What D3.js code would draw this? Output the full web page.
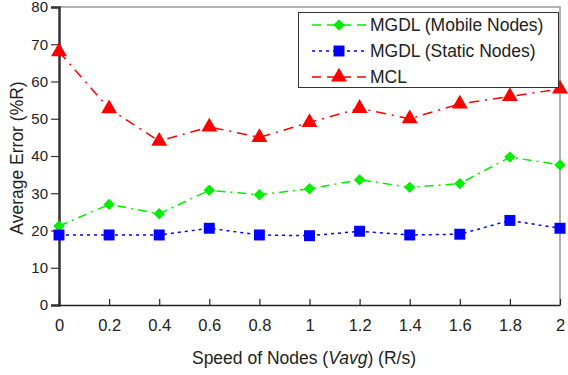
<!DOCTYPE html>
<html>
<head>
<meta charset="utf-8">
<script src="https://cdn.jsdelivr.net/npm/d3@7"></script>
<style>
  body { margin: 0; background: #fff; }
  text { font-family: "Liberation Sans", Arial, sans-serif; fill: #222; }
</style>
</head>
<body>
<svg width="568" height="375"></svg>
<script>
var speeds = [0, 0.2, 0.4, 0.6, 0.8, 1, 1.2, 1.4, 1.6, 1.8, 2];
var xTickLabels = ["0", "0.2", "0.4", "0.6", "0.8", "1", "1.2", "1.4", "1.6", "1.8", "2"];
var yTicks = [0, 10, 20, 30, 40, 50, 60, 70, 80];

var mobile = [21.2, 27, 24.5, 30.8, 29.6, 31.2, 33.6, 31.6, 32.6, 39.7, 37.6];
var stat = [18.8, 18.8, 18.8, 20.6, 18.8, 18.6, 19.8, 18.8, 19.0, 22.7, 20.6];
var mcl = [68, 52.7, 44, 47.8, 45, 49, 52.8, 50, 54, 56, 58];

var seriesNames = ["MGDL (Mobile Nodes)", "MGDL (Static Nodes)", "MCL"];

// square rotated 45deg = diamond with equal diagonals
var series = [
    {name: seriesNames[0], values: mobile, color: "#00ee00", dash: "9,5,2,5", symbol: d3.symbolSquare, size: 64, rot: 45},
    {name: seriesNames[1], values: stat, color: "#0000ff", dash: "3,4", symbol: d3.symbolSquare, size: 120, rot: 0},
    {name: seriesNames[2], values: mcl, color: "#ff0000", dash: "10,6,2,6", symbol: d3.symbolTriangle, size: 110, rot: 0}
];

var svg = d3.select("svg");
var mLeft = 59, mRight = 560, mTop = 7, mBottom = 305;

var x = d3.scaleLinear().domain([0, 2]).range([mLeft, mRight]);
var y = d3.scaleLinear().domain([0, 80]).range([mBottom, mTop]);

// frame (top/right)
svg.append("path")
    .attr("d", "M" + mLeft + "," + mTop + "H" + mRight + "V" + mBottom)
    .attr("fill", "none")
    .attr("stroke", "#999")
    .attr("stroke-width", 1.5);

// y axis
var yAxis = svg.append("g")
    .attr("transform", "translate(" + mLeft + ",0)")
    .call(d3.axisLeft(y).tickValues(yTicks).tickSize(8).tickPadding(3));
yAxis.select(".domain").attr("stroke", "#333").attr("stroke-width", 2.5);
yAxis.selectAll(".tick line").attr("stroke", "#333").attr("stroke-width", 1.2);
yAxis.selectAll("text").style("font-size", "15px").attr("fill", "#222");

// x axis (ticks inside)
var xAxis = svg.append("g")
    .attr("transform", "translate(0," + mBottom + ")")
    .call(d3.axisBottom(x).tickValues(speeds).tickFormat((d, i) => xTickLabels[i]).tickSizeInner(-6).tickSizeOuter(0).tickPadding(14));
xAxis.select(".domain").attr("stroke", "#222").attr("stroke-width", 1.5);
xAxis.selectAll(".tick line").attr("stroke", "#222").attr("stroke-width", 1.2);
xAxis.selectAll("text").style("font-size", "16.5px").attr("fill", "#222");

// axis titles
svg.append("text")
    .attr("x", 304).attr("y", 364)
    .attr("text-anchor", "middle")
    .style("font-size", "17.5px")
    .html('Speed of Nodes (<tspan font-style="italic">Vavg</tspan>) (R/s)');

svg.append("text")
    .attr("transform", "translate(23,158) rotate(-90)")
    .attr("text-anchor", "middle")
    .style("font-size", "17.5px")
    .text("Average Error (%R)");

// lines & markers
var line = d3.line()
    .x((d, i) => x(speeds[i]))
    .y(d => y(d));

series.forEach(function(s) {
    svg.append("path")
        .datum(s.values)
        .attr("d", line)
        .attr("fill", "none")
        .attr("stroke", s.color)
        .attr("stroke-width", 1.5)
        .attr("stroke-dasharray", s.dash);
    svg.append("g").selectAll("path")
        .data(s.values)
        .enter().append("path")
        .attr("d", d3.symbol().type(s.symbol).size(s.size))
        .attr("transform", (d, i) => "translate(" + x(speeds[i]) + "," + y(d) + ") rotate(" + s.rot + ")")
        .attr("fill", s.color);
});

// legend
var lg = svg.append("g");
lg.append("rect")
    .attr("x", 298.5).attr("y", 12.5)
    .attr("width", 260).attr("height", 75)
    .attr("fill", "#fff")
    .attr("stroke", "#333")
    .attr("stroke-width", 1);

series.forEach(function(s, i) {
    var ly = 25 + i * 26;
    lg.append("line")
        .attr("x1", 312).attr("x2", 366)
        .attr("y1", ly).attr("y2", ly)
        .attr("stroke", s.color)
        .attr("stroke-width", 1.5)
        .attr("stroke-dasharray", i === 1 ? "3,4" : "9,6");
    lg.append("path")
        .attr("d", d3.symbol().type(s.symbol).size(s.size))
        .attr("transform", "translate(339," + ly + ") rotate(" + s.rot + ")")
        .attr("fill", s.color);
    lg.append("text")
        .attr("x", 370).attr("y", ly + 6)
        .style("font-size", "17.5px")
        .text(s.name);
});
</script>
</body>
</html>
